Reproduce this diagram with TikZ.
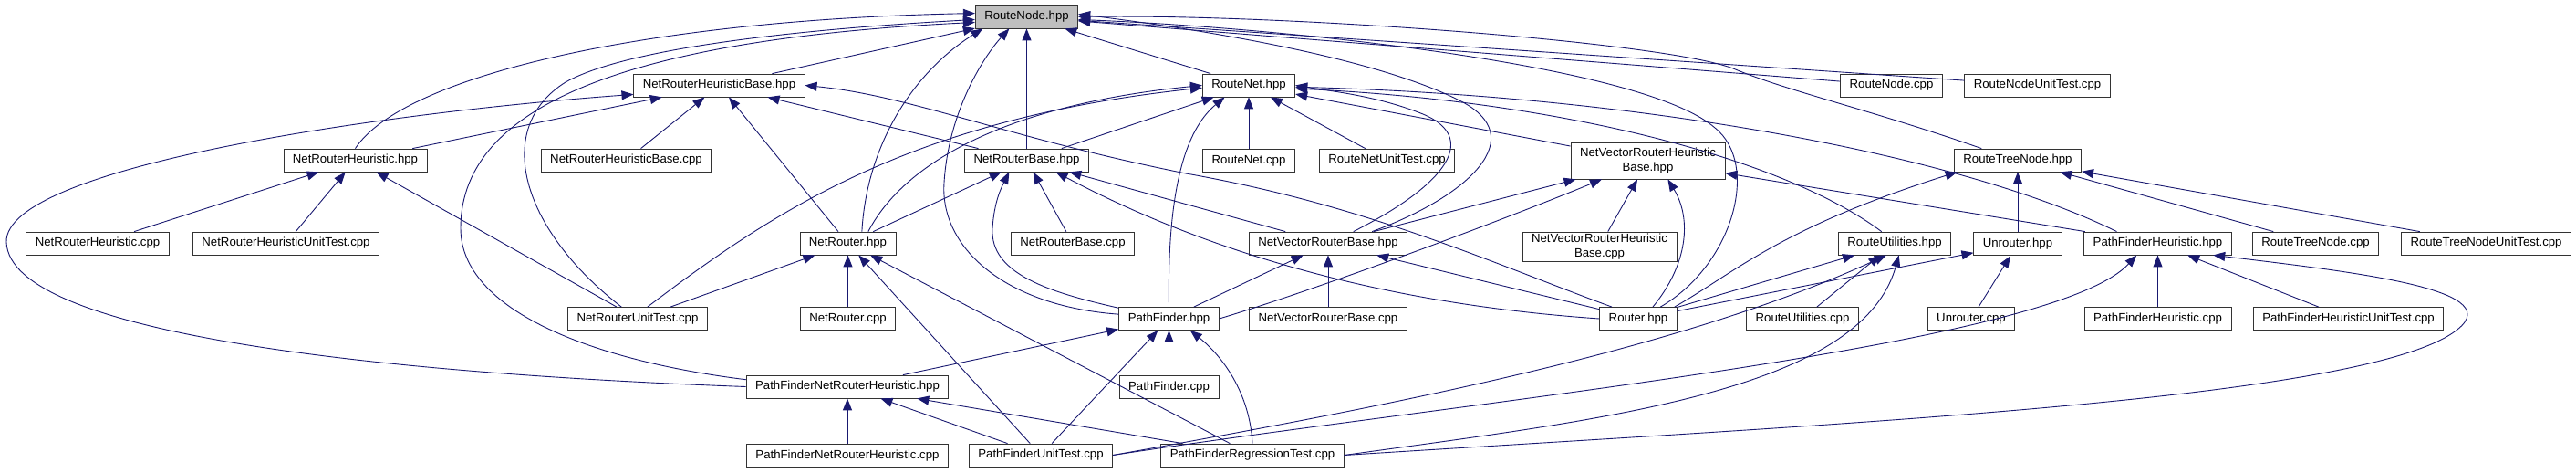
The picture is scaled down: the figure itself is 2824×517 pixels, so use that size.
\documentclass[tikz,border=0pt]{standalone}
\usepackage{fontspec}
\setmainfont{Liberation Sans}
\usetikzlibrary{arrows.meta,positioning}
\definecolor{depblue}{RGB}{25,25,112}
\definecolor{boxgray}{RGB}{191,191,191}
\newcommand{\filefont}{\fontsize{13.2}{16}\selectfont}

\begin{document}
\begin{tikzpicture}[
  x=1pt, y=-1pt,
  file/.style={rectangle, draw=black!80, fill=white, line width=0.8pt, minimum height=25pt, inner xsep=10pt, inner ysep=1pt, align=center, font=\filefont},
  focus/.style={file, fill=boxgray},
  dep/.style={-{Triangle[length=13pt,width=10pt]}, depblue, line width=0.9pt}
]
  \useasboundingbox (0,0) rectangle (2824,517);

  % --- top rows ---
  \node[focus] (rn) at (1125.5,18.5) {RouteNode.hpp};
  \node[file] (nrhb) at (788.5,93.5) {NetRouterHeuristicBase.hpp};
  \node[file] (rnet) at (1369,93.5) {RouteNet.hpp};
  \node[file] (rncpp) at (2073.5,93.5) {RouteNode.cpp};
  \node[file] (rnut) at (2233.5,93.5) {RouteNodeUnitTest.cpp};

  \node[file] (nrh) at (389.5,175.5) {NetRouterHeuristic.hpp};
  \node[file] (nrhbcpp) at (686.5,175.5) {NetRouterHeuristicBase.cpp};
  \node[file] (nrb) at (1125.5,175.5) {NetRouterBase.hpp};
  \node[file, below=57pt of rnet] (rnetcpp) {RouteNet.cpp};
  \node[file] (rnetut) at (1520.5,175.5) {RouteNetUnitTest.cpp};
  \node[file, minimum height=40pt] (nvrhb) at (1806.5,176) {NetVectorRouterHeuristic\\Base.hpp};
  \node[file] (rtn) at (2212,175.5) {RouteTreeNode.hpp};

  % --- middle rows ---
  \node[file] (nrhcpp) at (107,266.5) {NetRouterHeuristic.cpp};
  \node[file] (nrhut) at (313.5,266.5) {NetRouterHeuristicUnitTest.cpp};
  \node[file] (nr) at (929.5,266.5) {NetRouter.hpp};
  \node[file] (nrbcpp) at (1176,266.5) {NetRouterBase.cpp};
  \node[file] (nvrb) at (1456,266.5) {NetVectorRouterBase.hpp};
  \node[file, minimum height=32pt] (nvrhbcpp) at (1753.5,270) {NetVectorRouterHeuristic\\Base.cpp};
  \node[file] (ru) at (2077,266.5) {RouteUtilities.hpp};
  \node[file, below=66pt of rtn] (unr) {Unrouter.hpp};
  \node[file] (pfh) at (2365.5,266.5) {PathFinderHeuristic.hpp};
  \node[file] (rtncpp) at (2538.5,266.5) {RouteTreeNode.cpp};
  \node[file] (rtnut) at (2725.5,266.5) {RouteTreeNodeUnitTest.cpp};

  \node[file] (nrut) at (699,349) {NetRouterUnitTest.cpp};
  \node[file, below=57pt of nr] (nrcpp) {NetRouter.cpp};
  \node[file] (pf) at (1281.5,349) {PathFinder.hpp};
  \node[file, below=57pt of nvrb] (nvrbcpp) {NetVectorRouterBase.cpp};
  \node[file] (router) at (1796,349) {Router.hpp};
  \node[file] (rucpp) at (1976,349) {RouteUtilities.cpp};
  \node[file] (unrcpp) at (2161,349) {Unrouter.cpp};
  \node[file, below=57pt of pfh] (pfhcpp) {PathFinderHeuristic.cpp};
  \node[file] (pfhut) at (2574.5,349) {PathFinderHeuristicUnitTest.cpp};

  % --- bottom rows ---
  \node[file] (pfnrh) at (929,423.5) {PathFinderNetRouterHeuristic.hpp};
  \node[file, below=49pt of pf] (pfcpp) {PathFinder.cpp};
  \node[file, below=50pt of pfnrh] (pfnrhcpp) {PathFinderNetRouterHeuristic.cpp};
  \node[file] (pfut) at (1141,498.5) {PathFinderUnitTest.cpp};
  \node[file] (pfrt) at (1373,498.5) {PathFinderRegressionTest.cpp};

  % into RouteNode.hpp
  \draw[dep] (nrhb) -- (rn);
  \draw[dep] (nrb) -- (rn);
  \draw[dep] (rnet) -- (rn);
  \draw[dep] (rncpp) -- (rn);
  \draw[dep] (rnut) -- (rn);
  \draw[dep] (nrh.north) .. controls (440,85) and (700,22) .. (rn.176);
  \draw[dep] (nrut.144) .. controls (570,250) and (540,140) .. (620,90) .. controls (700,45) and (950,28) .. (rn.183);
  \draw[dep] (pfnrh.176) .. controls (650,395) and (505,340) .. (505,250) .. controls (505,130) and (650,45) .. (rn.186);
  \draw[dep] (nr.40) .. controls (950,160) and (1000,80) .. (rn.-165);
  \draw[dep] (pf.175) .. controls (1100,335) and (1030,270) .. (1035,200) .. controls (1040,120) and (1080,60) .. (rn.-146);
  \draw[dep] (nvrb.15) .. controls (1610,215) and (1680,150) .. (1600,110) .. controls (1500,60) and (1300,30) .. (rn.3);
  \draw[dep] (router.28) .. controls (1900,290) and (1930,180) .. (1880,140) .. controls (1800,70) and (1400,30) .. (rn.-3);
  \draw[dep] (rtn.162) .. controls (2050,120) and (1960,100) .. (1900,75) .. controls (1820,45) and (1400,15) .. (rn.east);

  % into NetRouterHeuristicBase.hpp
  \draw[dep] (nrh) -- (nrhb);
  \draw[dep] (nrhbcpp) -- (nrhb);
  \draw[dep] (nr) -- (nrhb);
  \draw[dep] (nrb) -- (nrhb);
  \draw[dep] (pfnrh.west) .. controls (450,410) and (10,370) .. (7,265) .. controls (5,185) and (400,125) .. (nrhb.186);
  \draw[dep] (router.156) .. controls (1640,290) and (1500,225) .. (1300,190) .. controls (1100,150) and (1000,105) .. (nrhb.east);

  % into NetRouterHeuristic.hpp
  \draw[dep] (nrhcpp) -- (nrh);
  \draw[dep] (nrhut) -- (nrh);
  \draw[dep] (nrut) -- (nrh);

  % into RouteNet.hpp
  \draw[dep] (nrb) -- (rnet);
  \draw[dep] (rnetcpp) -- (rnet);
  \draw[dep] (rnetut) -- (rnet);
  \draw[dep] (nvrhb) -- (rnet);
  \draw[dep] (nr.30) .. controls (990,180) and (1100,115) .. (rnet.west);
  \draw[dep] (nrut.50) .. controls (850,230) and (1000,130) .. (rnet.183);
  \draw[dep] (pf.north) .. controls (1280,240) and (1290,150) .. (rnet.-154);
  \draw[dep] (nvrb.25) .. controls (1590,200) and (1620,150) .. (1560,125) .. controls (1510,105) and (1460,100) .. (rnet.east);
  \draw[dep] (ru.138) .. controls (1950,170) and (1700,110) .. (rnet.-4);
  \draw[dep] (pfh.164) .. controls (2150,170) and (1800,105) .. (rnet.-2);

  % into NetRouterBase.hpp
  \draw[dep] (nr) -- (nrb);
  \draw[dep] (nrbcpp) -- (nrb);
  \draw[dep] (nvrb) -- (nrb);
  \draw[dep] (pf.168) .. controls (1150,320) and (1085,300) .. (1088,250) .. controls (1090,220) and (1098,205) .. (nrb.-146);
  \draw[dep] (router.west) .. controls (1550,335) and (1350,290) .. (nrb.-22);

  % into NetRouter.hpp
  \draw[dep] (nrut) -- (nr);
  \draw[dep] (nrcpp) -- (nr);
  \draw[dep] (pfut) -- (nr);
  \draw[dep] (pfrt) -- (nr);

  % into PathFinder.hpp
  \draw[dep] (pfnrh) -- (pf);
  \draw[dep] (pfut) -- (pf);
  \draw[dep] (pfcpp) -- (pf);
  \draw[dep] (pfrt.north) .. controls (1370,430) and (1340,390) .. (pf.-29);

  % into PathFinderNetRouterHeuristic.hpp
  \draw[dep] (pfnrhcpp) -- (pfnrh);
  \draw[dep] (pfut) -- (pfnrh);
  \draw[dep] (pfrt) -- (pfnrh);

  % into NetVectorRouterBase.hpp
  \draw[dep] (nvrbcpp) -- (nvrb);
  \draw[dep] (pf) -- (nvrb);
  \draw[dep] (router) -- (nvrb);

  % into NetVectorRouterHeuristicBase.hpp
  \draw[dep] (nvrb) -- (nvrhb);
  \draw[dep] (nvrhbcpp) -- (nvrhb);
  \draw[dep] (pfh) -- (nvrhb);
  \draw[dep] (pf.east) .. controls (1450,315) and (1650,240) .. (nvrhb.-158);
  \draw[dep] (router.39) .. controls (1850,290) and (1855,240) .. (nvrhb.-43);

  % into RouteUtilities.hpp
  \draw[dep] (router) -- (ru);
  \draw[dep] (rucpp) -- (ru);
  \draw[dep] (pfut.east) .. controls (1550,440) and (1850,380) .. (ru.-125);
  \draw[dep] (pfrt.east) .. controls (1750,460) and (2040,430) .. (ru.-70);

  % into Unrouter.hpp
  \draw[dep] (router) -- (unr);
  \draw[dep] (unrcpp) -- (unr);

  % into RouteTreeNode.hpp
  \draw[dep] (unr) -- (rtn);
  \draw[dep] (rtncpp) -- (rtn);
  \draw[dep] (rtnut) -- (rtn);
  \draw[dep] (router.18) .. controls (1900,300) and (1950,250) .. (rtn.-169);

  % into PathFinderHeuristic.hpp
  \draw[dep] (pfhcpp) -- (pfh);
  \draw[dep] (pfhut) -- (pfh);
  \draw[dep] (pfut.east) .. controls (1600,440) and (2250,380) .. (pfh.-151);
  \draw[dep] (pfrt.east) .. controls (2000,465) and (2550,440) .. (2680,370) .. controls (2770,320) and (2600,300) .. (pfh.-12);

\end{tikzpicture}
\end{document}
